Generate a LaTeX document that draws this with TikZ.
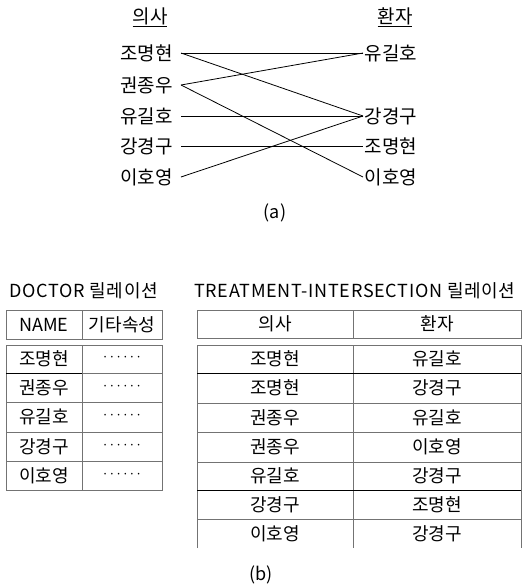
\documentclass[tikz,border=0pt]{standalone}
\usepackage{fontspec}
\setmainfont{Noto Sans CJK KR}
\usepackage{tikz}
\usetikzlibrary{positioning}
\definecolor{tabgray}{rgb}{0.45,0.45,0.45}

\begin{document}
\begin{tikzpicture}[x=1pt,y=-1pt,font=\fontsize{18}{20}\selectfont,
    lname/.style={anchor=east,inner xsep=8pt,inner ysep=0pt,font=\fontsize{19}{21}\selectfont},
    rname/.style={anchor=west,inner xsep=1.5pt,inner ysep=0pt,font=\fontsize{19}{21}\selectfont},
    cell/.style={inner sep=0pt},
    title/.style={anchor=west,inner sep=0pt,font=\fontsize{18}{20}\selectfont\addfontfeature{LetterSpace=4}},
    link/.style={line width=0.8pt},
    tabline/.style={tabgray,line width=1pt},
    rowdark/.style={black,line width=1pt},
    dots/.style={inner sep=0pt,font=\fontsize{12}{12}\selectfont}]
  \useasboundingbox (0,0) rectangle (522,587);
  % (a) doctors and patients
  \node[inner sep=0pt,font=\fontsize{19}{21}\selectfont] (hdoc) at (150,17) {\underline{의사}};
  \node[inner sep=0pt,font=\fontsize{19}{21}\selectfont] (hpat) at (395,17) {\underline{환자}};
  \node[lname] (d1) at (181,53) {조명현};
  \node[lname] (d2) at (181,85) {권종우};
  \node[lname] (d3) at (181,116) {유길호};
  \node[lname] (d4) at (181,146) {강경구};
  \node[lname] (d5) at (181,177) {이호영};
  \node[rname] (p1) at (363,53) {유길호};
  \node[rname] (p2) at (363,116) {강경구};
  \node[rname] (p3) at (363,146) {조명현};
  \node[rname] (p4) at (363,177) {이호영};
  \draw[link] (d1.east) -- (p1.west);
  \draw[link] (d1.east) -- (p2.west);
  \draw[link] (d2.east) -- (p1.west);
  \draw[link] (d2.east) -- (p4.west);
  \draw[link] (d3.east) -- (p2.west);
  \draw[link] (d4.east) -- (p3.west);
  \draw[link] (d5.east) -- (p2.west);
  \node[inner sep=0pt] (capa) at (275,213) {(a)};
  % (b) DOCTOR relation
  \node[title] (tdoc) at (9,291) {DOCTOR 릴레이션};
  \draw[tabline] (6,310) rectangle (162,339);
  \draw[tabline] (82,310) -- (82,339);
  \draw[tabline] (6,345) rectangle (162,490);
  \draw[tabline] (82,345) -- (82,490);
  \draw[rowdark] (6,373) -- (82,373);
  \draw[tabline] (82,373) -- (162,373);
  \foreach \y in {402,432,461}
    \draw[tabline] (6,\y) -- (162,\y);
  \node[cell] (dname) at (44,324.5) {NAME};
  \node[cell] (detc) at (122,324.5) {기타속성};
  \foreach \n/\y [count=\i] in {조명현/359,권종우/387.5,유길호/417,강경구/446.5,이호영/475.5}{
    \node[cell] (dn\i) at (44,\y) {\n};
    \node[dots] (dd\i) at (122,\y) {······};
  }
  % (b) TREATMENT-INTERSECTION relation
  \node[title] (ttr) at (194,291) {TREATMENT-INTERSECTION 릴레이션};
  \draw[tabline] (197,310) rectangle (521,338);
  \draw[tabline] (353,310) -- (353,338);
  \draw[tabline] (197,548) -- (197,345) -- (521,345) -- (521,548);
  \draw[tabline] (353,345) -- (353,548);
  \draw[rowdark] (197,373) -- (521,373);
  \foreach \y in {403,432,462}
    \draw[tabline] (197,\y) -- (521,\y);
  \draw[rowdark] (197,490) -- (521,490);
  \draw[tabline] (197,519) -- (521,519);
  \node[cell] (tdoch) at (275,324) {의사};
  \node[cell] (tpath) at (437,324) {환자};
  \foreach \a/\b/\y [count=\i] in {조명현/유길호/359,조명현/강경구/388,권종우/유길호/417.5,권종우/이호영/447,유길호/강경구/476,강경구/조명현/504.5,이호영/강경구/533.5}{
    \node[cell] (ta\i) at (275,\y) {\a};
    \node[cell] (tb\i) at (437,\y) {\b};
  }
  \node[inner sep=0pt] (capb) at (261,575) {(b)};
\end{tikzpicture}
\end{document}
